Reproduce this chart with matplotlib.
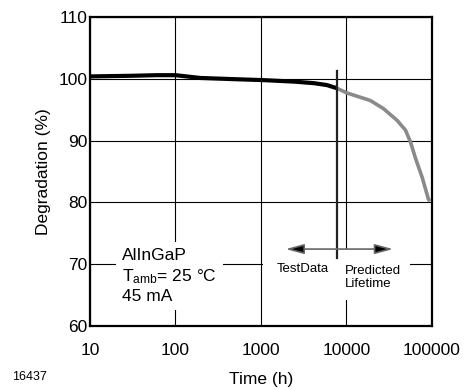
import matplotlib
matplotlib.use("Agg")
import matplotlib.pyplot as plt
from matplotlib.patches import Rectangle
from matplotlib.ticker import FixedLocator, FixedFormatter, NullLocator

plt.rcParams['font.family'] = ['Liberation Sans', 'DejaVu Sans']
plt.rcParams['mathtext.fontset'] = 'custom'
plt.rcParams['mathtext.rm'] = 'Liberation Sans'
plt.rcParams['mathtext.it'] = 'Liberation Sans'

# Measured (test data) part of the curve
test_hours = [10, 30, 60, 100, 195, 500, 1070, 2500, 4200, 5900, 7700]
test_deg = [100.4, 100.5, 100.6, 100.6, 100.15, 99.95, 99.8, 99.55, 99.3, 99.0, 98.5]

# Predicted lifetime part of the curve
pred_hours = [7700, 10000, 19000, 27000, 39000, 49000, 56000, 64000, 77000, 91000, 95000]
pred_deg = [98.5, 97.75, 96.5, 95.2, 93.3, 91.7, 89.8, 87.2, 84.0, 80.5, 80.2]

x_ticks = [10, 100, 1000, 10000, 100000]
x_tick_labels = ["10", "100", "1000", "10000", "100000"]
y_ticks = [60, 70, 80, 90, 100, 110]
y_tick_labels = ["60", "70", "80", "90", "100", "110"]

boundary_hours = 7700

FS = 12.5

fig = plt.figure(figsize=(4.66, 3.89), dpi=100)
ax = fig.add_axes([0.193, 0.162, 0.734, 0.794])
ax.set_xscale('log')
ax.set_xlim(10, 100000)
ax.set_ylim(60, 110)

ax.xaxis.set_major_locator(FixedLocator(x_ticks))
ax.xaxis.set_major_formatter(FixedFormatter(x_tick_labels))
ax.xaxis.set_minor_locator(NullLocator())
ax.yaxis.set_major_locator(FixedLocator(y_ticks))
ax.yaxis.set_major_formatter(FixedFormatter(y_tick_labels))
ax.tick_params(axis='both', length=0, labelsize=FS)
ax.tick_params(axis='x', pad=12)
ax.tick_params(axis='y', pad=2)
ax.grid(True, color='black', linewidth=0.8)
ax.set_axisbelow(True)
for s in ax.spines.values():
    s.set_linewidth(1.6)

ax.plot(pred_hours, pred_deg, color='#8a8a8a', linewidth=2.6, solid_capstyle='butt', zorder=3)
ax.plot(test_hours, test_deg, color='black', linewidth=3.0, solid_capstyle='butt', zorder=4)

# Divider between test data and prediction
ax.plot([boundary_hours, boundary_hours], [101.3, 71.0], color='#222222', linewidth=1.6, zorder=5)

# White mask behind the test data / prediction labels
ax.add_patch(Rectangle((0.506, 0.084), 0.43, 0.165, transform=ax.transAxes,
                       facecolor='white', edgecolor='none', zorder=2))

ax.text(1550, 69.2, "TestData", fontsize=9.5, ha='left', va='center', zorder=3)
ax.text(9600, 67.85, "Predicted\nLifetime", fontsize=9.5, ha='left', va='center', zorder=3,
        linespacing=1.15)

# arrows
ax.annotate("", xy=(1950, 72.45), xytext=(boundary_hours, 72.45),
            arrowprops=dict(arrowstyle='-|>,head_length=1.1,head_width=0.3',
                            ec='#666666', fc='black', lw=1.2, shrinkA=0, shrinkB=0),
            zorder=6)
ax.annotate("", xy=(35000, 72.45), xytext=(boundary_hours, 72.45),
            arrowprops=dict(arrowstyle='-|>,head_length=1.1,head_width=0.3',
                            ec='#666666', fc='black', lw=1.2, shrinkA=0, shrinkB=0),
            zorder=6)

ax.text(23.7, 68.1, "AlInGaP\nT$_{\\mathrm{amb}}$= 25 °C\n45 mA", fontsize=FS,
        ha='left', va='center', linespacing=1.28, zorder=3,
        bbox=dict(facecolor='white', edgecolor='none', pad=4.5))

ax.set_ylabel("Degradation (%)", fontsize=FS, labelpad=5)
ax.set_xlabel("Time (h)", fontsize=FS, labelpad=10)

fig.text(0.026, 0.015, "16437", fontsize=9, ha='left', va='bottom')

fig.savefig("out.png", dpi=100)
